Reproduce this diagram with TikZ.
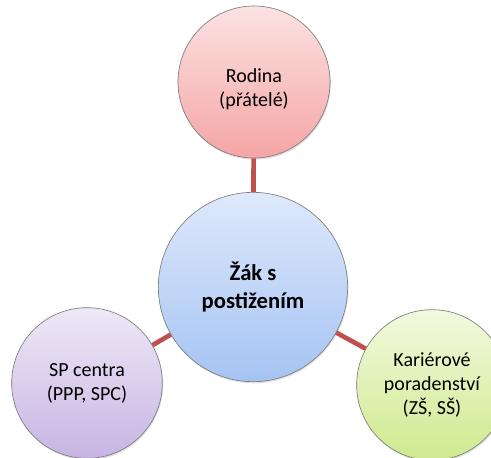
\documentclass[tikz,border=0pt]{standalone}
\usepackage{fontspec}
\setmainfont{Carlito}
\usetikzlibrary{shadows}

\definecolor{spokered}{RGB}{192,80,77}
\definecolor{rimgray}{RGB}{125,125,125}

\tikzset{
  bubble/.style={circle, draw=rimgray, line width=0.5pt, align=center, inner sep=0pt,
    drop shadow={opacity=0.25, shadow xshift=0.6pt, shadow yshift=-1.2pt},
    font=\fontsize{15}{18}\selectfont},
  spoke/.style={draw=spokered, line width=3.5pt}
}

\begin{document}
\begin{tikzpicture}[x=0.75pt,y=0.75pt,yscale=-1,xscale=1]
%set diagram to 491 x 457
\useasboundingbox (0,0) rectangle (491,457);

%Shape: Circle (centre)
\node (zak) at (253,287) [bubble, minimum size=142pt, top color={rgb,255:red,222;green,233;blue,251}, bottom color={rgb,255:red,165;green,195;blue,243},
  font=\fontsize{17}{21}\selectfont\bfseries] {Žák s\\postižením};
%Shape: Circle (top)
\node (rodina) at (254,82) [bubble, minimum size=114pt, top color={rgb,255:red,252;green,226;blue,226}, bottom color={rgb,255:red,245;green,165;blue,165}] {\rule{0pt}{21pt}Rodina\\(přátelé)};
%Shape: Circle (left)
\node (spc) at (87,383) [bubble, minimum size=113pt, top color={rgb,255:red,238;green,232;blue,247}, bottom color={rgb,255:red,199;green,181;blue,226}] {SP centra\\(PPP, SPC)};
%Shape: Circle (right)
\node (kariera) at (432,385) [bubble, minimum size=113pt, top color={rgb,255:red,242;green,249;blue,222}, bottom color={rgb,255:red,206;green,234;blue,142}] {Kariérové\\poradenství\\(ZŠ, SŠ)};

%Straight Lines
\draw [spoke] (zak) -- (rodina) ;
\draw [spoke] (zak) -- (spc) ;
\draw [spoke] (zak) -- (kariera) ;

\end{tikzpicture}
\end{document}
